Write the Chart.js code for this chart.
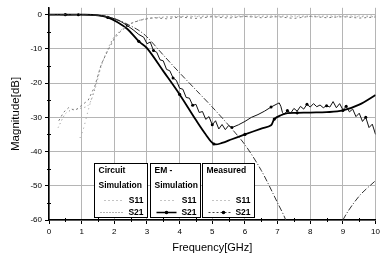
<!DOCTYPE html>
<html>
<head>
<meta charset="utf-8">
<script src="https://cdn.jsdelivr.net/npm/chart.js@4.4.1/dist/chart.umd.min.js"></script>
<style>
html,body{margin:0;padding:0;background:#fff;}
canvas{display:block;}
</style>
</head>
<body>
<canvas id="Grafico1" width="383" height="263"></canvas>
<script>
// valores (frecuencia en GHz, magnitud en dB)
let xTicks=[0,1,2,3,4,5,6,7,8,9,10];
let yTicks=[-60,-50,-40,-30,-20,-10,0];

// Circuit simulation S21 (rama de bajada y rama de subida)
let circS21F=[0,0.5,1,1.5,1.8,2.1,2.4,2.75,3,3.5,4,4.5,5,5.5,6,6.5,7,7.25,7.6,8.2,8.8,9,9.5,10];
let circS21=[0,0,0,-0.2,-0.6,-1.5,-2.8,-4.6,-6.5,-11.8,-17,-22,-27,-32.3,-38,-45.5,-55,-60,-70,-85,-66,-60,-53,-48.5];

// Circuit simulation S11
let circS11F=[0.28,0.5,0.7,0.9,1.2,1.4,1.6,1.8,2,2.3,2.6,3,3.5,4,5,6,7,8,9,10];
let circS11=[-33,-29,-27.8,-27.5,-26.5,-22,-15,-10,-6.5,-3.8,-2.2,-1.1,-0.7,-0.5,-0.4,-0.4,-0.4,-0.4,-0.4,-0.4];

// EM simulation S11
let emS11F=[0.95,1.05,1.2,1.44,1.55,1.7,1.84,2,2.3,2.55,3,3.5,4,5,6,7,8,9,10];
let emS11=[-36,-33.5,-28,-20,-16,-12.5,-9.7,-6.5,-4,-2.4,-1.2,-0.8,-0.6,-0.6,-0.6,-0.6,-0.6,-0.6,-0.6];

// EM simulation S21
let emS21F=[0,0.5,1,1.5,1.8,2.1,2.4,2.75,3,3.5,4,4.5,4.8,5.05,5.3,5.6,6,6.5,6.8,6.9,7.1,7.3,7.6,8,8.5,9,9.5,10];
let emS21=[0,0,0,-0.2,-0.8,-2.2,-4.2,-7.8,-9.8,-16.5,-23.3,-30.8,-35,-37.8,-37.5,-36.4,-35,-33.3,-32.3,-30.5,-29.4,-28.8,-28.7,-28.6,-28.5,-28,-26.3,-23.5];

// Measured S21
let measS21F=[0,0.3,0.6,0.9,1.2,1.5,1.8,2,2.2,2.4,2.6,2.75,2.9,3,3.1,3.2,3.3,3.4,3.5,3.6,3.7,3.8,3.9,4,4.1,4.2,4.3,4.4,4.5,4.6,4.7,4.8,4.9,5,5.1,5.2,5.3,5.4,5.5,5.6,5.8,6,6.2,6.4,6.6,6.8,7,7.05,7.1,7.15,7.2,7.3,7.4,7.5,7.6,7.7,7.8,7.9,8,8.1,8.2,8.3,8.4,8.5,8.6,8.7,8.8,8.9,9,9.1,9.2,9.3,9.4,9.5,9.6,9.7,9.8,9.9,10];
let measS21=[0,0,-0.1,0,-0.1,-0.2,-0.6,-1.2,-2,-3.2,-4.6,-5.8,-6.6,-8.5,-8,-10.5,-11,-13.2,-13.5,-16,-16.4,-18.5,-19.2,-21.5,-21.8,-24.2,-24.4,-26.5,-26.2,-28.6,-28.3,-30.6,-29.8,-32.2,-31,-33.4,-32.1,-33.6,-32.4,-33,-32.2,-31.2,-30,-29.2,-28.2,-27,-26,-25.8,-26.8,-28.6,-29.2,-28,-28.8,-27.4,-28.2,-26.8,-27.6,-26.2,-27,-26,-26.9,-26.4,-27.2,-26.6,-27,-25.4,-27.2,-26,-27.8,-26.8,-28.4,-27.6,-29.8,-28.8,-31.2,-30,-33,-32,-35];

// Measured S11
let measS11F=[0.3,0.45,0.6,0.8,1,1.2,1.4,1.6,1.8,2,2.2,2.5,2.8,3.2,3.6,4,4.5,5,5.5,6,6.5,7,7.5,8,8.5,9,9.5,10];
let measS11=[-31,-28.5,-27.2,-28,-26.5,-25,-21,-14.5,-10.5,-7,-4.8,-2.6,-1.6,-0.9,-1.2,-0.7,-1.1,-0.6,-1,-0.5,-0.9,-0.6,-1.1,-0.5,-0.9,-0.6,-1,-0.7];

function puntos(f,d){
	return f.map((x,i)=>({x:x,y:d[i]}));
}

// leyenda en tres cajas y marcas menores
let extras={
	id:'extras',
	afterDatasetsDraw(chart){
		let c=chart.ctx;
		let xs=chart.scales.x, ys=chart.scales.y;
		let a=chart.chartArea;
		c.save();
		// marcas menores
		c.strokeStyle='#000';
		c.lineWidth=1;
		for(let v=0.5;v<10;v+=1){
			let px=Math.round(xs.getPixelForValue(v))+0.5;
			c.beginPath();c.moveTo(px,a.bottom-2);c.lineTo(px,a.bottom+2);c.stroke();
		}
		for(let v=-55;v<0;v+=10){
			let py=Math.round(ys.getPixelForValue(v))+0.5;
			c.beginPath();c.moveTo(a.left-2,py);c.lineTo(a.left+2,py);c.stroke();
		}
		let top=Math.round(ys.getPixelForValue(-43.3))+0.5;
		let bot=Math.round(ys.getPixelForValue(-59))+0.5;
		let cajas=[
			{l:1.39,r:3.0,t1:'Circuit',t2:'Simulation',s21:'dot'},
			{l:3.08,r:4.61,t1:'EM -',t2:'Simulation',s21:'solid'},
			{l:4.68,r:6.27,t1:'Measured',t2:'',s21:'dash'}
		];
		c.font='bold 8.5px "Liberation Sans", Arial, sans-serif';
		c.textBaseline='middle';
		cajas.forEach(b=>{
			let l=Math.round(xs.getPixelForValue(b.l))+0.5;
			let r=Math.round(xs.getPixelForValue(b.r))+0.5;
			c.fillStyle='#fff';
			c.fillRect(l,top,r-l,bot-top);
			c.strokeStyle='#000';c.lineWidth=1;c.setLineDash([]);
			c.strokeRect(l,top,r-l,bot-top);
			c.fillStyle='#000';
			c.textAlign='left';
			c.fillText(b.t1,l+4,top+7);
			c.fillText(b.t2,l+4,top+22);
			c.textAlign='right';
			c.fillText('S11',r-4,top+37);
			c.fillText('S21',r-4,top+49);
			// muestras
			let x1=l+6, x2=r-24;
			c.strokeStyle='#888';c.lineWidth=1;c.setLineDash([1,3]);
			c.beginPath();c.moveTo(x1+4,top+37);c.lineTo(x2,top+37);c.stroke();
			if(b.s21=='dot'){
				c.strokeStyle='#666';c.setLineDash([1,2]);
				c.beginPath();c.moveTo(x1,top+49);c.lineTo(x2,top+49);c.stroke();
			}else if(b.s21=='solid'){
				c.strokeStyle='#000';c.lineWidth=1.5;c.setLineDash([]);
				c.beginPath();c.moveTo(x1,top+49);c.lineTo(x2,top+49);c.stroke();
				c.beginPath();c.arc((x1+x2)/2,top+49,1.8,0,Math.PI*2);c.fillStyle='#000';c.fill();
			}else{
				c.strokeStyle='#444';c.lineWidth=1;c.setLineDash([2,2]);
				c.beginPath();c.moveTo(x1,top+49);c.lineTo(x2,top+49);c.stroke();
				c.beginPath();c.arc((x1+x2)/2+4,top+49,1.8,0,Math.PI*2);c.fillStyle='#000';c.fill();
			}
		});
		c.restore();
	}
};

let CanvasG1=document.getElementById('Grafico1').getContext('2d');
let datos={
	datasets:[
		{
			label:'Circuit S11',
			data:puntos(circS11F,circS11),
			borderColor:'#8a8a8a',
			borderWidth:1,
			borderDash:[1,3],
			pointRadius:0,
			tension:0.3
		},
		{
			label:'EM S11',
			data:puntos(emS11F,emS11),
			borderColor:'#999',
			borderWidth:1,
			borderDash:[1,4],
			pointRadius:0,
			tension:0.3
		},
		{
			label:'Measured S11',
			data:puntos(measS11F,measS11),
			borderColor:'#777',
			borderWidth:1,
			borderDash:[2,3],
			pointRadius:0,
			tension:0
		},
		{
			label:'Circuit S21',
			data:puntos(circS21F,circS21),
			borderColor:'#333',
			borderWidth:1,
			borderDash:[6,2,1,2],
			pointRadius:0,
			tension:0.3
		},
		{
			label:'Measured S21',
			data:puntos(measS21F,measS21),
			borderColor:'#111',
			borderWidth:1,
			pointRadius:(p)=>p.dataIndex%6==3?1.5:0,
			pointBackgroundColor:'#000',
			pointBorderWidth:0,
			tension:0
		},
		{
			label:'EM S21',
			data:puntos(emS21F,emS21),
			borderColor:'#000',
			borderWidth:1.8,
			pointRadius:(p)=>p.dataIndex%3==1?1.6:0,
			pointBackgroundColor:'#000',
			pointBorderWidth:0,
			tension:0.35
		}
	]
};

let opciones={
	responsive:false,
	animation:false,
	layout:{padding:{top:6,right:3,left:0,bottom:0}},
	plugins:{legend:{display:false},tooltip:{enabled:false}},
	elements:{line:{fill:false}},
	scales:{
		x:{
			type:'linear',
			min:0,max:10,
			afterBuildTicks:(s)=>{s.ticks=xTicks.map(v=>({value:v}));},
			afterFit:(s)=>{s.height=43;},
			border:{color:'#000',width:1.5},
			grid:{color:'#b5b5b5',lineWidth:1,tickLength:4,tickColor:'#000',drawTicks:true,borderDash:[1,4]},
			ticks:{color:'#000',font:{family:'"Liberation Sans", Arial, sans-serif',size:8},padding:3,maxRotation:0},
			title:{display:true,text:'Frequency[GHz]',color:'#000',font:{family:'"Liberation Sans", Arial, sans-serif',size:11},padding:{top:2,bottom:8}}
		},
		y:{
			type:'linear',
			min:-60,max:2,
			afterBuildTicks:(s)=>{s.ticks=yTicks.map(v=>({value:v}));},
			afterFit:(s)=>{s.width=49;},
			border:{color:'#000',width:1.5},
			grid:{color:'#b5b5b5',lineWidth:1,tickLength:4,tickColor:'#000',drawTicks:true,borderDash:[1,4]},
			ticks:{color:'#000',font:{family:'"Liberation Sans", Arial, sans-serif',size:8},padding:3},
			title:{display:true,text:'Magnitude[dB]',color:'#000',font:{family:'"Liberation Sans", Arial, sans-serif',size:11.5},padding:{top:9,bottom:0}}
		}
	}
};

let G1=new Chart(CanvasG1,{
	type:'line',
	data:datos,
	options:opciones,
	plugins:[extras]
});
</script>
</body>
</html>
